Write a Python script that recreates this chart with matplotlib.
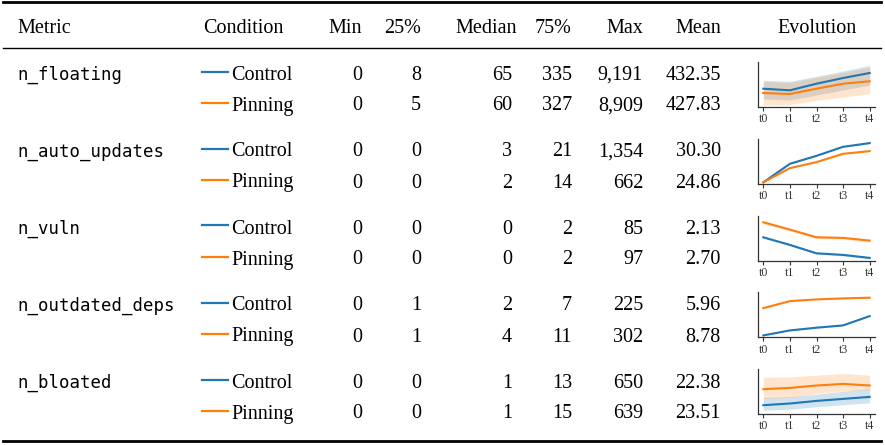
import numpy as np
import matplotlib
matplotlib.use("Agg")
import matplotlib.pyplot as plt
from matplotlib.lines import Line2D

W, H = 885, 445
SERIF = ["Liberation Serif", "DejaVu Serif"]
MONO = ["DejaVu Sans Mono"]
BLUE = "#1f77b4"
ORANGE = "#ff7f0e"

metrics = ["n_floating", "n_auto_updates", "n_vuln", "n_outdated_deps", "n_bloated"]
conditions = ["Control", "Pinning"]
headers = ["Min", "25%", "Median", "75%", "Max", "Mean"]

# summary stats per metric: (control, pinning)
stat_min = [(0, 0), (0, 0), (0, 0), (0, 0), (0, 0)]
stat_q25 = [(8, 5), (0, 0), (0, 0), (1, 1), (0, 0)]
stat_median = [(65, 60), (3, 2), (0, 0), (2, 4), (1, 1)]
stat_q75 = [(335, 327), (21, 14), (2, 2), (7, 11), (13, 15)]
stat_max = [(9191, 8909), (1354, 662), (85, 97), (225, 302), (650, 639)]
stat_mean = [(432.35, 427.83), (30.30, 24.86), (2.13, 2.70), (5.96, 8.78), (22.38, 23.51)]

# evolution sparklines (relative scale), t0..t4
steps = ["t0", "t1", "t2", "t3", "t4"]
evo_control = [
    [18.3, 16.7, 23.3, 29.0, 34.0],
    [1.5, 20.0, 28.0, 37.0, 40.7],
    [23.3, 15.7, 7.3, 5.7, 2.7],
    [2.0, 7.0, 9.7, 12.0, 21.3],
    [9.0, 10.7, 13.3, 15.3, 17.3],
]
evo_control_lo = [
    [8.0, 7.0, 12.0, 17.0, 22.0],
    [1.2, 19.5, 27.5, 36.5, 40.2],
    [22.3, 14.7, 6.3, 4.7, 1.7],
    [1.6, 6.6, 9.3, 11.6, 20.9],
    [4.0, 5.0, 7.5, 9.5, 11.3],
]
evo_control_hi = [
    [26.7, 25.7, 30.7, 36.0, 41.7],
    [1.8, 20.5, 28.5, 37.5, 41.2],
    [24.3, 16.7, 8.3, 6.7, 3.7],
    [2.4, 7.4, 10.1, 12.4, 21.7],
    [16.7, 17.5, 20.0, 23.0, 25.7],
]
evo_pinning = [
    [14.0, 13.0, 18.3, 23.3, 25.7],
    [1.5, 15.7, 21.7, 30.0, 32.7],
    [38.3, 31.0, 23.3, 22.7, 20.0],
    [29.3, 36.3, 38.0, 39.0, 39.7],
    [25.0, 26.3, 28.7, 30.3, 28.7],
]
evo_pinning_lo = [
    [1.7, 2.3, 6.7, 10.0, 13.3],
    [1.2, 15.2, 21.2, 29.5, 32.2],
    [36.8, 29.5, 21.8, 21.2, 18.5],
    [28.8, 35.8, 37.5, 38.5, 39.2],
    [15.7, 16.7, 20.7, 23.3, 24.7],
]
evo_pinning_hi = [
    [25.5, 24.5, 29.5, 34.5, 40.0],
    [1.8, 16.2, 22.2, 30.5, 33.2],
    [39.8, 32.5, 24.8, 24.2, 21.5],
    [29.8, 36.8, 38.5, 39.5, 40.2],
    [36.7, 37.3, 39.0, 40.7, 39.0],
]


def fx(x):
    return x / W


def fy(y):
    return 1 - y / H


def fmt(v):
    if isinstance(v, float):
        return f"{v:,.2f}"
    return f"{v:,}"


def draw_rule(fig, y, lw):
    fig.add_artist(Line2D([fx(3), fx(881)], [fy(y), fy(y)], color="black", lw=lw,
                          transform=fig.transFigure))


def draw_table(fig):
    draw_rule(fig, 2, 2.0)
    draw_rule(fig, 47.5, 1.0)
    draw_rule(fig, 441, 2.0)

    fs = 14.5
    head_base = 33
    fig.text(fx(17), fy(head_base), "Metric", family=SERIF, size=fs, va="baseline")
    fig.text(fx(203), fy(head_base), "Condition", family=SERIF, size=fs, va="baseline")
    col_right = [362, 421, 512, 572, 643, 721]
    head_right = [362, 421, 517, 572, 643, 721]
    for h, xr in zip(headers, head_right):
        fig.text(fx(xr), fy(head_base), h, family=SERIF, size=fs, va="baseline", ha="right")
    fig.text(fx(817), fy(head_base), "Evolution", family=SERIF, size=fs, va="baseline", ha="center")

    stats = [stat_min, stat_q25, stat_median, stat_q75, stat_max, stat_mean]
    for i, m in enumerate(metrics):
        base = 79.5 + 77 * i
        fig.text(fx(17), fy(base), m, family=MONO, size=12.5, va="baseline")
        for j, cond in enumerate(conditions):
            yb = base + 31 * j
            color = BLUE if j == 0 else ORANGE
            fig.add_artist(Line2D([fx(202), fx(228)], [fy(yb - 8), fy(yb - 8)], color=color,
                                  lw=1.6, transform=fig.transFigure))
            fig.text(fx(231), fy(yb), cond, family=SERIF, size=fs, va="baseline")
            for s, xr in zip(stats, col_right):
                fig.text(fx(xr), fy(yb), fmt(s[i][j]), family=SERIF, size=fs,
                         va="baseline", ha="right")


def draw_sparklines(fig):
    x = np.arange(len(steps))
    for i in range(len(metrics)):
        bottom = 107 + 76.8 * i
        ax = fig.add_axes([fx(758), fy(bottom), (875 - 758) / W, 45 / H])
        ax.fill_between(x, evo_control_lo[i], evo_control_hi[i], color=BLUE, alpha=0.2, lw=0)
        ax.fill_between(x, evo_pinning_lo[i], evo_pinning_hi[i], color=ORANGE, alpha=0.2, lw=0)
        ax.plot(x, evo_control[i], color=BLUE, lw=1.5)
        ax.plot(x, evo_pinning[i], color=ORANGE, lw=1.5)
        ax.set_xlim(-0.2, 4.2)
        ax.set_ylim(0, 45)
        ax.set_xticks(x)
        ax.set_xticklabels(steps, family=SERIF, size=8.5)
        ax.set_yticks([])
        ax.tick_params(axis="x", length=3, width=0.8, pad=1.5, colors="#333")
        for side in ["top", "right"]:
            ax.spines[side].set_visible(False)
        for side in ["left", "bottom"]:
            ax.spines[side].set_color("#333")
            ax.spines[side].set_linewidth(0.9)
        ax.patch.set_alpha(0)


def main():
    fig = plt.figure(figsize=(W / 100, H / 100), dpi=100)
    draw_table(fig)
    draw_sparklines(fig)
    fig.savefig("out.png", dpi=100)


if __name__ == "__main__":
    main()
